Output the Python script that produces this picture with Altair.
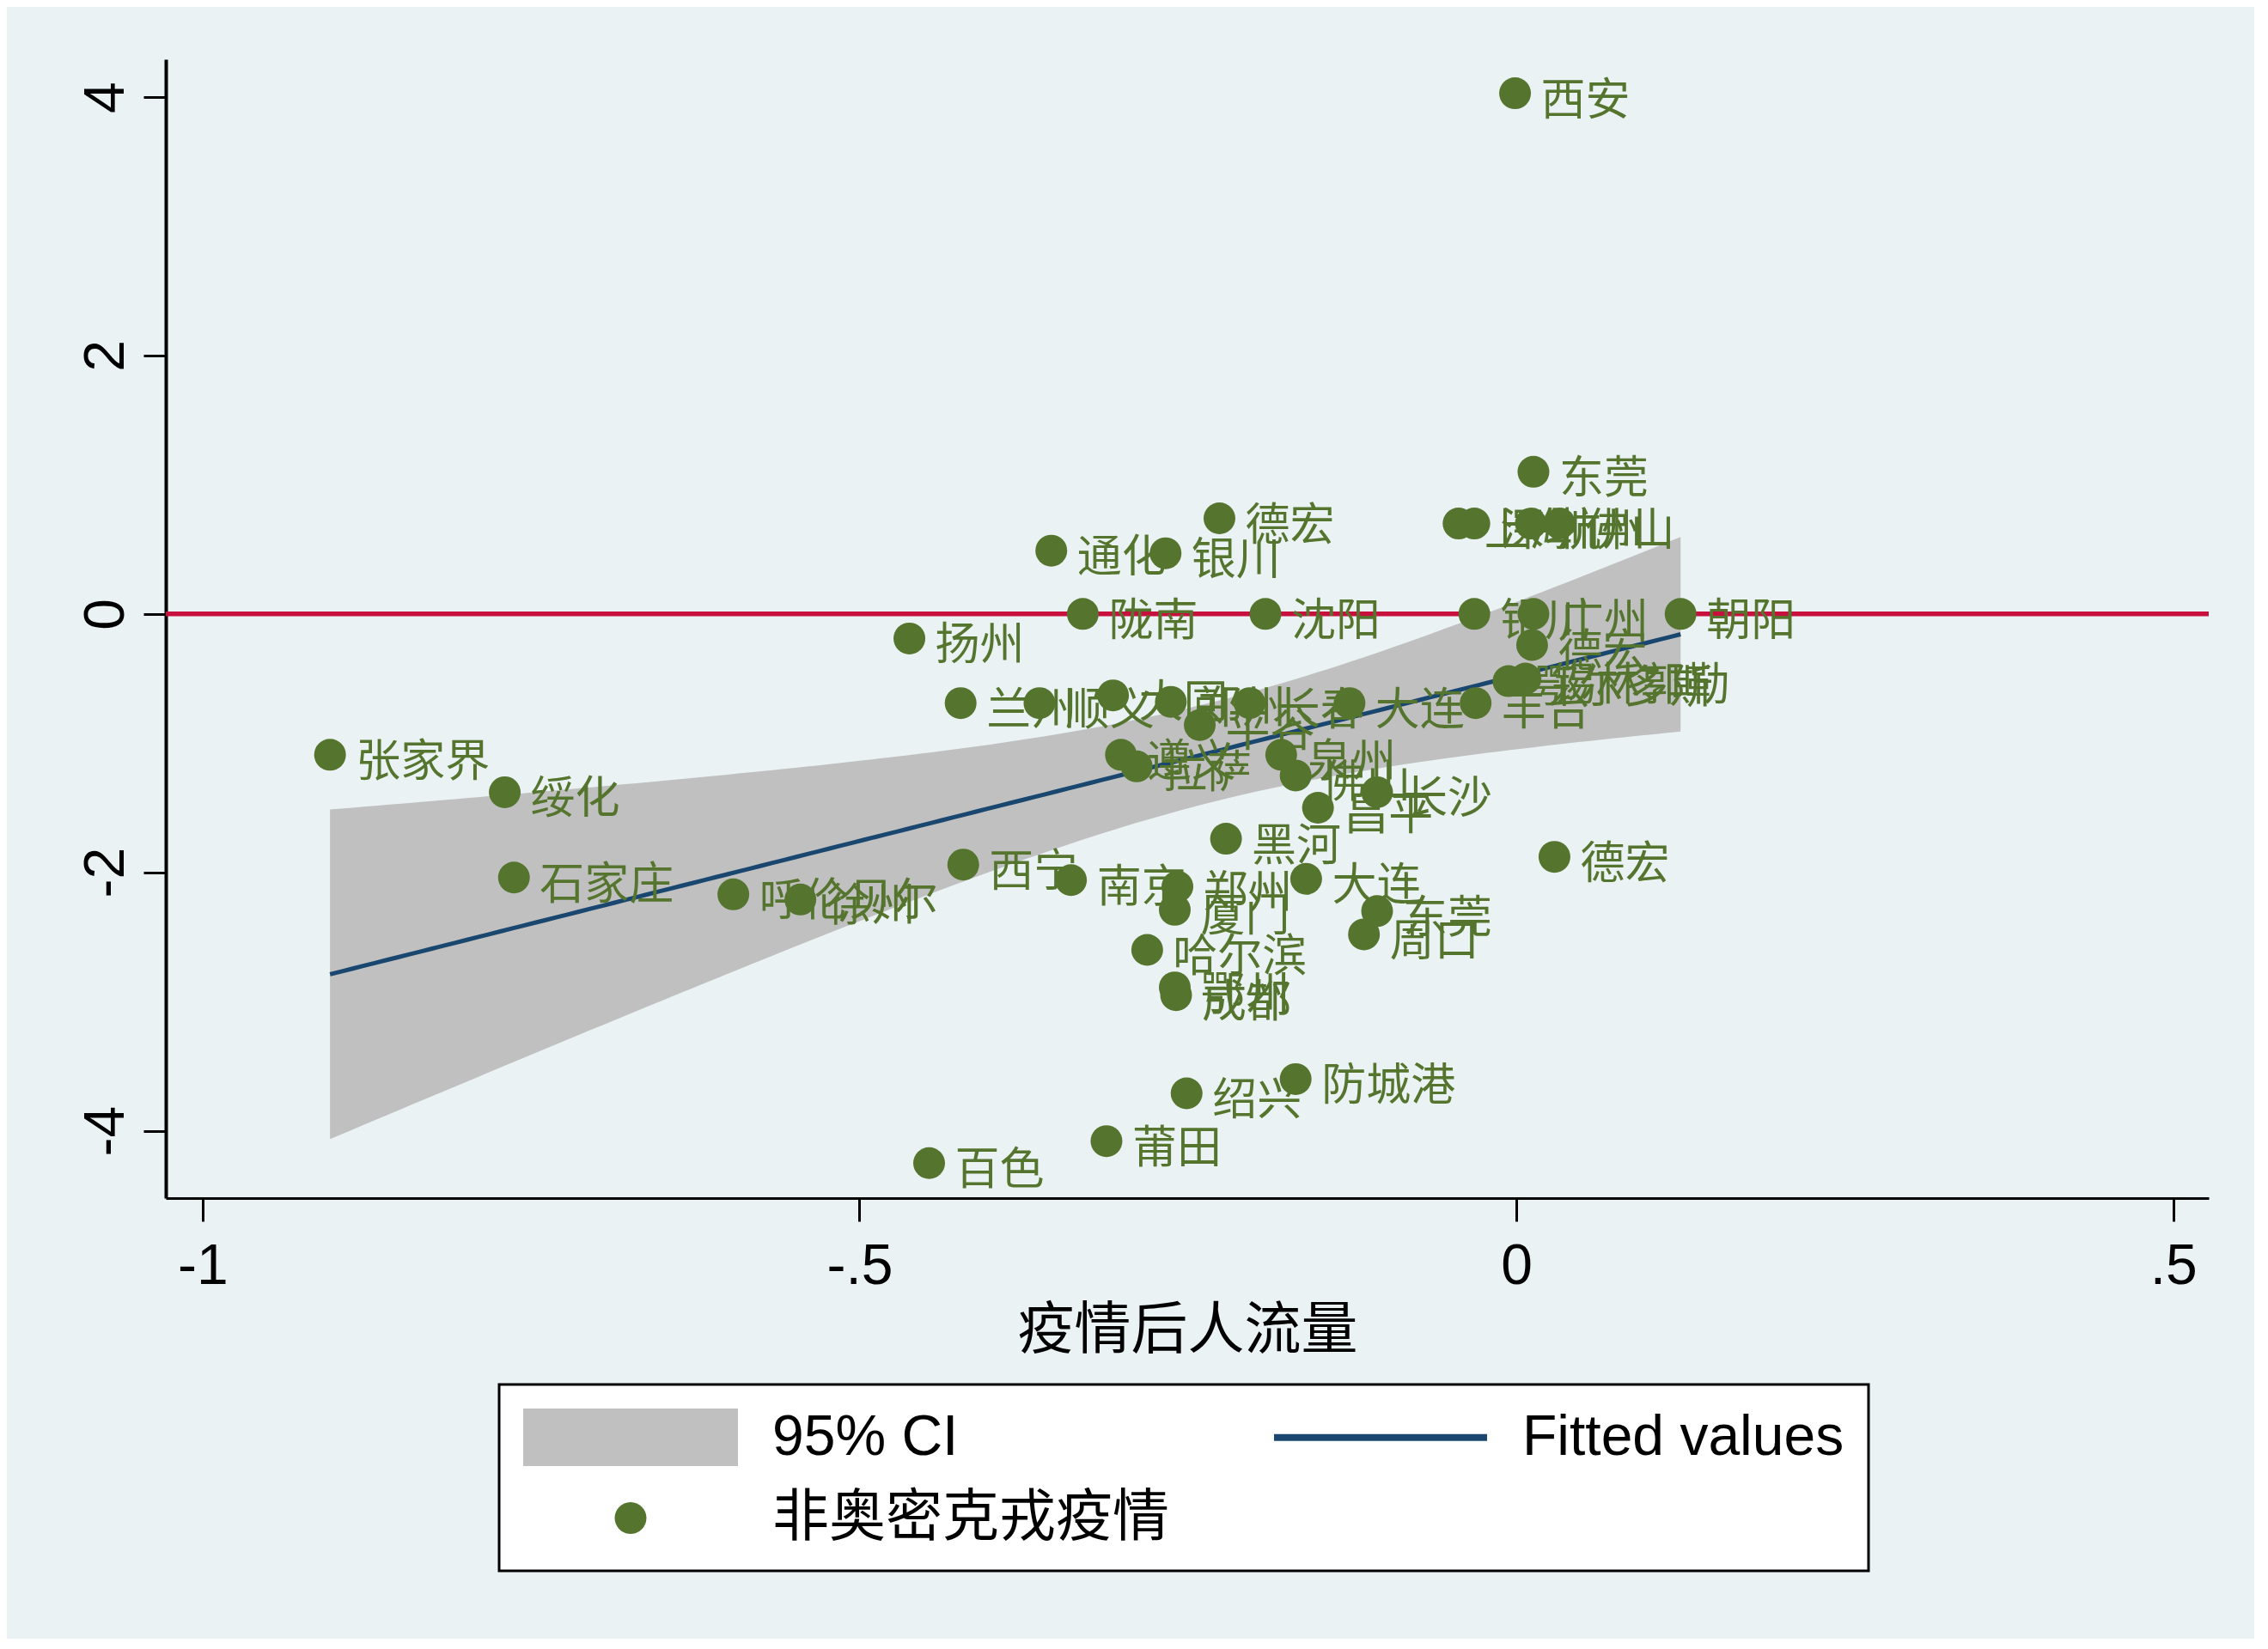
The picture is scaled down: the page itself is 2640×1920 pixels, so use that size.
import altair as alt
import pandas as pd
import numpy as np

cities = ["西安", "东莞", "德宏", "通化", "银川", "上海", "深圳", "杭州", "佛山",
          "陇南", "沈阳", "银川", "广州", "朝阳", "扬州", "德宏", "鄂尔多斯", "锡林郭勒",
          "兰州", "顺义", "大同", "郑州", "平谷", "长春", "大连", "丰台",
          "遵义", "拉萨", "泉州", "佛山", "昌平", "长沙", "黑河", "德宏",
          "张家界", "绥化", "石家庄", "呼伦贝尔", "徐州", "西宁", "南京", "郑州",
          "厦门", "大连", "东莞", "周口", "哈尔滨", "鄂州", "成都", "绍兴",
          "防城港", "莆田", "百色"]
flow = [-0.001, 0.013, -0.226, -0.354, -0.267, -0.044, -0.032, 0.011, 0.033,
        -0.330, -0.191, -0.032, 0.013, 0.125, -0.462, 0.012, -0.006, 0.007,
        -0.423, -0.363, -0.307, -0.263, -0.241, -0.203, -0.127, -0.031,
        -0.301, -0.289, -0.179, -0.168, -0.151, -0.106, -0.221, 0.029,
        -0.903, -0.770, -0.763, -0.596, -0.545, -0.421, -0.339, -0.258,
        -0.260, -0.160, -0.106, -0.116, -0.281, -0.260, -0.259, -0.251,
        -0.168, -0.312, -0.447]
resid = [4.03, 1.10, 0.74, 0.49, 0.47, 0.70, 0.70, 0.70, 0.70,
         0.0, 0.0, 0.0, 0.0, 0.0, -0.19, -0.24, -0.52, -0.50,
         -0.69, -0.69, -0.63, -0.68, -0.86, -0.69, -0.69, -0.69,
         -1.09, -1.18, -1.09, -1.25, -1.50, -1.38, -1.74, -1.88,
         -1.09, -1.38, -2.04, -2.17, -2.21, -1.94, -2.06, -2.11,
         -2.29, -2.05, -2.30, -2.48, -2.60, -2.89, -2.95, -3.71,
         -3.60, -4.08, -4.25]

legend_names = ["95% CI", "Fitted values", "非奥密克戎疫情"]
legend_colors = ["#C0C0C0", "#1A476F", "#55752F"]
legend_shapes = ["M-3.731,-1H3.731V1H-3.731Z",
                 "M-3.701,-0.119H3.701V0.119H-3.701Z",
                 "M0.552,0A0.552,0.552,0,1,1,-0.552,0A0.552,0.552,0,1,1,0.552,0Z"]
x_ticks = [-1, -0.5, 0, 0.5]
y_ticks = [-4, -2, 0, 2, 4]
x_title = "疫情后人流量"

# linear fit with 95% CI of the prediction (as Stata lfitci)
xv = np.array(flow)
yv = np.array(resid)
n = len(xv)
slope, inter = np.polyfit(xv, yv, 1)
xbar = xv.mean()
sxx = ((xv - xbar) ** 2).sum()
s = np.sqrt(((yv - (inter + slope * xv)) ** 2).sum() / (n - 2))
tcrit = 2.0076
grid = np.linspace(xv.min(), xv.max(), 120)
fit = inter + slope * grid
se = s * np.sqrt(1.0 / n + (grid - xbar) ** 2 / sxx)
fit_df = pd.DataFrame({"x": grid, "fit": fit, "lo": fit - tcrit * se, "hi": fit + tcrit * se})
pts = pd.DataFrame({"city": cities, "x": flow, "y": resid})

xscale = alt.Scale(domain=[-1.028, 0.527], nice=False, zero=False)
yscale = alt.Scale(domain=[-4.521, 4.293], nice=False, zero=False)
lab_expr = "replace(toString(datum.value), '0.', '.')"

xaxis = alt.Axis(values=x_ticks, labelExpr=lab_expr, labelFontSize=66, labelFont="Liberation Sans",
                 labelColor="black", labelPadding=20, labelFlush=False, labelOverlap=False,
                 tickSize=27, tickWidth=3, tickColor="black", domainColor="black", domainWidth=3,
                 grid=False, titleFontSize=66, titleFont="Noto Sans CJK SC", titleFontWeight="normal",
                 titleColor="black", titlePadding=10)
yaxis = alt.Axis(values=y_ticks, labelExpr=lab_expr, labelFontSize=66, labelFont="Liberation Sans",
                 labelColor="black", labelAngle=270, labelAlign="center", labelBaseline="alphabetic",
                 labelPadding=24, labelFlush=False, labelOverlap=False,
                 tickSize=26, tickWidth=3, tickColor="black", domainColor="black", domainWidth=4,
                 grid=True, gridColor="#EAF2F3", gridWidth=4, title=None)


def X(field):
    return alt.X(field, type="quantitative", scale=xscale, axis=xaxis, title=x_title)


def Y(field):
    return alt.Y(field, type="quantitative", scale=yscale, axis=yaxis, title=None)


zero_line = alt.Chart(pd.DataFrame({"y": [0]})).mark_rule(color="#C8103E", strokeWidth=5.5).encode(
    y=Y("y"))

band = alt.Chart(fit_df).mark_area(color="#C0C0C0", opacity=1).encode(
    x=X("x"), y=Y("lo"), y2="hi")

line = alt.Chart(fit_df).mark_line(color="#1A476F", strokeWidth=5).encode(
    x=X("x"), y=Y("fit"))

points = alt.Chart(pts).mark_point(filled=True, size=1369, color="#55752F", opacity=1,
                                   strokeWidth=0, shape="circle").encode(
    x=X("x"), y=Y("y"))

labels = alt.Chart(pts).mark_text(align="left", baseline="middle", dx=30, dy=9, fontSize=52,
                                  font="Noto Sans CJK SC", color="#55752F").encode(
    x=X("x"), y=Y("y"), text="city:N")


def make_legend():
    return alt.Legend(title=None, orient="none", legendX=388, legendY=1543, direction="horizontal",
                      columns=2, columnPadding=121, rowPadding=27, padding=28,
                      strokeColor="black", fillColor="white", cornerRadius=0,
                      labelFontSize=66, labelFont="Liberation Sans, Noto Sans CJK SC",
                      labelColor="black", labelOffset=131.5, labelLimit=0,
                      symbolSize=4489, symbolOffset=91.5, symbolStrokeWidth=0, symbolOpacity=1)


legend_layer = alt.Chart(pd.DataFrame({"series": legend_names})).transform_filter("false").mark_point(
    filled=True, opacity=1, strokeWidth=0).encode(
    color=alt.Color("series:N", scale=alt.Scale(domain=legend_names, range=legend_colors),
                    legend=make_legend()),
    shape=alt.Shape("series:N", scale=alt.Scale(domain=legend_names, range=legend_shapes),
                    legend=make_legend()))

chart = alt.layer(zero_line, band, line, points, labels, legend_layer).properties(
    width=2378, height=1326,
    padding={"left": 185, "top": 61, "right": 53, "bottom": 513},
    autosize=alt.AutoSizeParams(type="none"),
    background="#EAF2F3",
).configure_view(fill="white", stroke=None).configure_legend(strokeWidth=3)

chart.save("out.html", embed_options={"renderer": "svg", "actions": False})
